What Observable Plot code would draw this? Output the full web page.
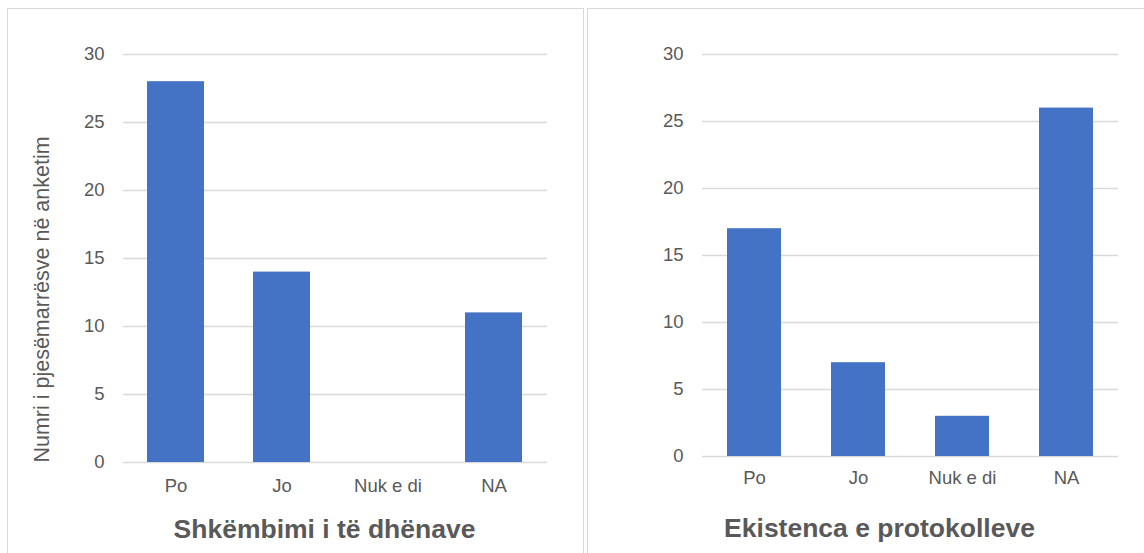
<!DOCTYPE html>
<html>
<head>
<meta charset="utf-8">
<script src="https://cdn.jsdelivr.net/npm/d3@7"></script>
<script src="https://cdn.jsdelivr.net/npm/@observablehq/plot@0.6"></script>
<style>
  html, body { margin: 0; padding: 0; background: #fff; overflow: hidden; }
  #wrap { position: relative; width: 1144px; height: 553px; }
  .panel { position: absolute; border: 1px solid #d9d9d9; box-sizing: border-box; background: #fff; }
  .chart { position: absolute; top: 8px; }
  .chart svg { display: block; }
</style>
</head>
<body>
<div id="wrap">
  <div class="panel" style="left:7px; top:8px; width:577px; height:560px;"></div>
  <div class="panel" style="left:587px; top:8px; width:570px; height:560px;"></div>
  <div class="chart" id="c1" style="left:7px;"></div>
  <div class="chart" id="c2" style="left:587px;"></div>
</div>
<script>
const categories = ["Po", "Jo", "Nuk e di", "NA"];
const valuesShkembimi = [28, 14, 0, 11];
const valuesProtokolle = [17, 7, 3, 26];
const yTicks = [0, 5, 10, 15, 20, 25, 30];
const title1 = "Shkëmbimi i të dhënave";
const title2 = "Ekistenca e protokolleve";
const yTitle = "Numri i pjesëmarrësve në anketim";

const barColor = "#4472C4";
const gridColor = "#d9d9d9";
const textColor = "#595959";
const font = "'Liberation Sans', Arial, Helvetica, sans-serif";

function makeChart(values, title, opts) {
  const data = categories.map((c, i) => ({cat: c, val: values[i]}));
  const marks = [
    Plot.ruleY(yTicks, {stroke: gridColor, strokeWidth: 1.5}),
    Plot.barY(data, {x: "cat", y: "val", fill: barColor}),
    Plot.axisY(yTicks, {tickSize: 0, tickPadding: opts.yPad, fontSize: 18.5, fill: textColor, label: null}),
    Plot.axisX({tickSize: 0, tickPadding: opts.xPad, fontSize: 18.5, fill: textColor, label: null}),
    Plot.text([title], {frameAnchor: "bottom", lineAnchor: "middle", textAnchor: "middle", dx: opts.titleDx, dy: opts.titleDy, fontSize: 26.5, fontWeight: "bold", fill: textColor})
  ];
  if (opts.yLabel) {
    marks.push(Plot.text([opts.yLabel], {frameAnchor: "left", textAnchor: "middle", lineAnchor: "middle", dx: opts.yLabelDx, dy: opts.yLabelDy, rotate: -90, fontSize: 21.5, fill: textColor}));
  }
  return Plot.plot({
    width: opts.width,
    height: 545,
    marginLeft: opts.ml,
    marginRight: opts.mr,
    marginTop: 46,
    marginBottom: opts.mb,
    style: {fontFamily: font, background: "transparent", color: textColor},
    x: {domain: categories, paddingInner: opts.pad, paddingOuter: opts.pad / 2},
    y: {domain: [0, 30]},
    marks
  });
}

document.getElementById("c1").appendChild(makeChart(valuesShkembimi, title1, {
  width: 576, ml: 116, mr: 36, mb: 91, pad: 0.46, yPad: 19, xPad: 16,
  titleDx: -11, titleDy: 67, yLabel: yTitle, yLabelDx: -81, yLabelDy: 41
}));
document.getElementById("c2").appendChild(makeChart(valuesProtokolle, title2, {
  width: 557, ml: 115, mr: 26, mb: 97, pad: 0.48, yPad: 19, xPad: 14,
  titleDx: -31, titleDy: 72
}));
</script>
</body>
</html>
